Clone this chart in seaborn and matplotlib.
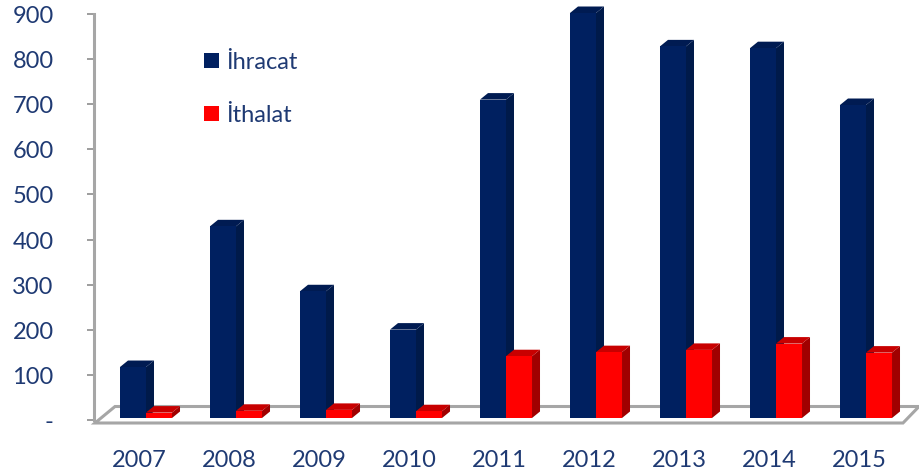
import matplotlib
matplotlib.use("Agg")
from matplotlib.patches import Polygon
from matplotlib.transforms import ScaledTranslation
import matplotlib.pyplot as plt
import numpy as np
import pandas as pd
import seaborn as sns

years = ["2007", "2008", "2009", "2010", "2011", "2012", "2013", "2014", "2015"]
ihracat = [113, 425, 281, 196, 706, 898, 824, 820, 694]
ithalat = [12, 16, 18, 15, 137, 146, 151, 165, 145]
y_ticks = [0, 100, 200, 300, 400, 500, 600, 700, 800, 900]
y_labels = ["-", "100", "200", "300", "400", "500", "600", "700", "800", "900"]

TEXT = "#1F3A73"
AXIS = "#A6A6A6"
FACES = {
    "İhracat": ("#002060", "#001A4A", "#001B52"),
    "İthalat": ("#FF0000", "#A00000", "#C80000"),
}
PX_X = 90.0  # pixels per category
PX_Y = 0.451  # pixels per value unit
BASE = 4.4  # the tick zero sits a little below the foot of the bars

sns.set_theme(style="white")
plt.rcParams["font.family"] = ["Lato", "DejaVu Sans"]

df = pd.DataFrame({
    "year": years * 2,
    "value": ihracat + ithalat,
    "kind": ["İhracat"] * len(years) + ["İthalat"] * len(years),
})

fig = plt.figure(figsize=(9.19, 4.73), dpi=100)
ax = fig.add_axes([0, 0, 1, 1])
ax.patch.set_alpha(0)

sns.barplot(
    data=df, x="year", y="value", hue="kind", ax=ax, width=0.578, gap=0,
    palette={k: v[0] for k, v in FACES.items()}, saturation=1,
    linewidth=0, errorbar=None,
)
ax.set_xlim(-146 / PX_X, (919 - 146) / PX_X)
ax.set_ylim(-(473 - 418) / PX_Y, 418 / PX_Y)
ax.set_xlabel("")
ax.set_ylabel("")


def to_x(px):
    return px / PX_X


def to_y(px):
    return px / PX_Y


# floor of the 3d box
floor_y = to_y(-5)
floor = Polygon(
    [(to_x(95 - 146), floor_y), (to_x(115 - 146), to_y(11.5)),
     (to_x(919 - 146), to_y(11.5)), (to_x(903 - 146), floor_y)],
    closed=True, facecolor="white", edgecolor=AXIS, linewidth=2.2, zorder=1,
)
ax.add_patch(floor)

# side and top faces from the drawn bars
dx, dy = to_x(8), to_y(6.5)
for container, (name, faces) in zip(ax.containers, FACES.items()):
    z = 2 if name == "İhracat" else 4
    for bar in container:
        bar.set_zorder(z + 1)
        x0, x1 = bar.get_x(), bar.get_x() + bar.get_width()
        y0, y1 = bar.get_y(), bar.get_y() + bar.get_height()
        ax.add_patch(Polygon(
            [(x1, y0), (x1 + dx, y0 + dy), (x1 + dx, y1 + dy), (x1, y1)],
            closed=True, facecolor=faces[1], linewidth=0, zorder=z,
        ))
        ax.add_patch(Polygon(
            [(x0, y1), (x0 + dx, y1 + dy), (x1 + dx, y1 + dy), (x1, y1)],
            closed=True, facecolor=faces[2], linewidth=0, zorder=z,
        ))

for side in ["top", "right", "bottom"]:
    ax.spines[side].set_visible(False)
ax.spines["left"].set_position(("data", to_x(94 - 146)))
ax.spines["left"].set_bounds(-BASE, 900 - BASE)
ax.spines["left"].set_color(AXIS)
ax.spines["left"].set_linewidth(2.2)

ax.set_yticks(np.array(y_ticks) - BASE, y_labels)
ax.tick_params(axis="y", left=True, length=5, width=1.2, color="#8C8C8C", pad=24,
               labelsize=17, labelcolor=TEXT)
ax.tick_params(axis="x", bottom=False, pad=0, labelsize=17, labelcolor=TEXT)
ax.set_xticks(range(len(years)), years)
x_shift = ScaledTranslation(-7 / 100, 21 / 100, fig.dpi_scale_trans)
for label in ax.get_xticklabels():
    label.set_transform(label.get_transform() + x_shift)
    label.set_va("center")
y_shift = ScaledTranslation(0, -2.5 / 100, fig.dpi_scale_trans)
for label in ax.get_yticklabels():
    label.set_transform(label.get_transform() + y_shift)
    label.set_va("center")

handles, labels = ax.get_legend_handles_labels()
ax.legend(
    handles, labels, frameon=False, loc="upper left", bbox_to_anchor=(204 / 919, 1 - 52 / 473),
    borderaxespad=0, borderpad=0, handlelength=0.63, handleheight=0.63, handletextpad=0.3,
    labelspacing=1.34, fontsize=17, labelcolor=TEXT,
)

fig.savefig("out.png", dpi=100)
